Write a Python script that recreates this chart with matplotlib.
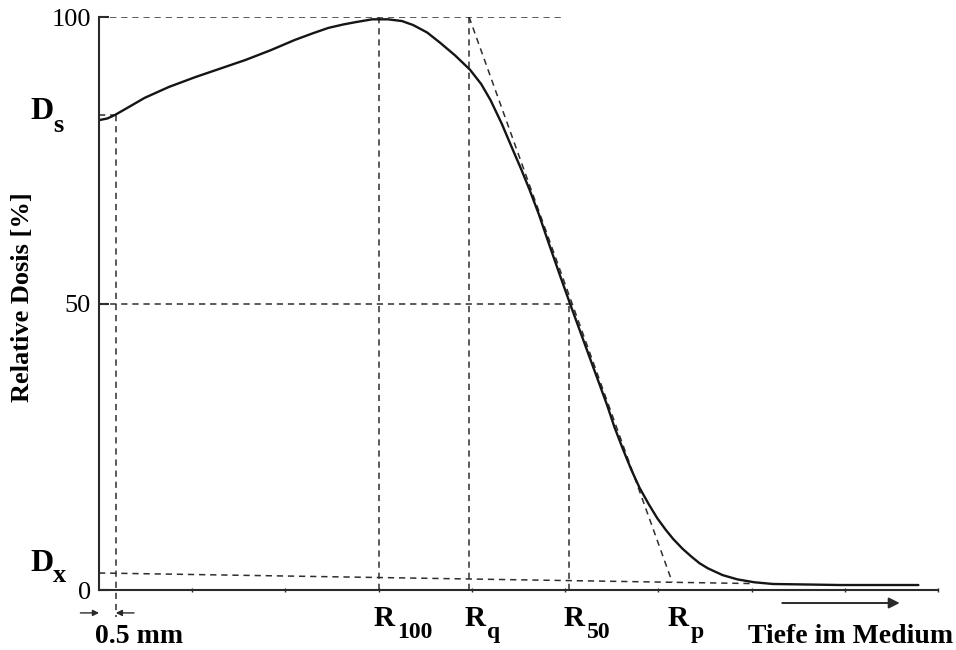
import matplotlib.pyplot as plt
from matplotlib.transforms import offset_copy

plt.rcParams['font.family'] = 'Liberation Serif'
plt.rcParams['lines.scale_dashes'] = False

# Tiefendosiskurve
depth = [0.0, 0.09, 0.17, 0.32, 0.49, 0.75, 1.03, 1.30, 1.57, 1.84, 2.10,
         2.30, 2.46, 2.62, 2.75, 2.93, 3.10, 3.25, 3.37, 3.52, 3.66, 3.82,
         3.98, 4.10, 4.20, 4.32, 4.44, 4.53, 4.62, 4.72, 4.81, 4.93, 5.05,
         5.16, 5.27, 5.36, 5.45, 5.53, 5.62, 5.71, 5.80, 5.90, 5.99, 6.08,
         6.16, 6.26, 6.35, 6.44, 6.53, 6.69, 6.85, 7.03, 7.23, 7.60, 7.95,
         8.79]
dose = [82.0, 82.3, 82.9, 84.3, 85.9, 87.8, 89.5, 91.0, 92.5, 94.2, 96.0,
        97.2, 98.1, 98.7, 99.1, 99.6, 99.6, 99.3, 98.6, 97.3, 95.5, 93.3,
        90.8, 88.3, 85.5, 81.4, 76.8, 73.4, 69.8, 65.5, 61.2, 55.6, 50.1,
        45.2, 40.3, 36.3, 32.3, 28.4, 24.6, 21.0, 17.8, 14.9, 12.5, 10.5,
        8.9, 7.2, 5.9, 4.7, 3.8, 2.6, 1.85, 1.35, 1.05, 0.96, 0.87,
        0.87]

# charakteristische Punkte
r100 = 3.0
rq = 3.97
r50 = 5.04
rp = 6.15
half_mm = 0.18
ds = 82.9
dx_depth = [0.0, 6.98]
dx_dose = [2.97, 1.13]
rp_dose = 1.35

r_labels = ['100', 'q', '50', 'p']
r_pos = [r100, rq, r50, rp]

dark = '#2a2a2a'
dash = dict(color='#2e2e2e', lw=1.1, dashes=(4.5, 3.5))

fig = plt.figure(figsize=(9.56, 6.5), dpi=100)
ax = fig.add_axes([0.1036, 0.0923, 0.8775, 0.8815])
ax.set_xlim(0, 9)
ax.set_ylim(0, 100)

for s in ['top', 'right']:
    ax.spines[s].set_visible(False)
for s in ['left', 'bottom']:
    ax.spines[s].set_linewidth(1.5)
    ax.spines[s].set_color(dark)

ax.set_yticks([0, 50, 100])
ax.set_yticklabels(['0', '50', '100'])
ax.tick_params(axis='y', direction='in', length=7, width=1.5, color=dark,
               labelsize=19, pad=6)
ax.set_xticks(range(1, 10))
ax.set_xticklabels([])
ax.tick_params(axis='x', direction='inout', length=3, width=1, color=dark)

# Hilfslinien
ax.plot([0, 4.97], [100, 100], **dash)
ax.plot([0, 5.1], [50, 50], **dash)
ax.plot([r100, r100], [0, 100], **dash)
ax.plot([rq, rq], [0, 100], **dash)
ax.plot([r50, r50], [0, 50], **dash)
ax.plot([rq, rp], [100, rp_dose], **dash)
ax.plot(dx_depth, dx_dose, **dash)
ax.plot([0, half_mm], [ds, ds], **dash)
ax.plot([half_mm, half_mm], [ds, -4.7], clip_on=False, **dash)

# Kurve
ax.plot(depth, dose, color='#151515', lw=1.7, solid_capstyle='round',
        solid_joinstyle='round')

# Pfeile unter der Achse
arr = dict(arrowstyle='-|>', lw=1.0, color=dark, mutation_scale=9,
           shrinkA=0, shrinkB=0)
ax.annotate('', xy=(0, -4.0), xytext=(-0.2, -4.0), arrowprops=arr,
            annotation_clip=False)
ax.annotate('', xy=(half_mm, -4.0), xytext=(0.375, -4.0), arrowprops=arr,
            annotation_clip=False)
big = dict(arrowstyle='-|>', lw=1.4, color=dark, mutation_scale=16,
           shrinkA=0, shrinkB=0)
ax.annotate('', xy=(8.59, -2.27), xytext=(7.33, -2.27), arrowprops=big,
            annotation_clip=False)

# R-Beschriftungen
for pos, sub in zip(r_pos, r_labels):
    tr = offset_copy(ax.transData, fig=fig, x=-5, y=-36, units='dots')
    ax.text(pos, 0, 'R', transform=tr, fontsize=21, fontweight='bold',
            ha='left', va='baseline', clip_on=False)
    tr2 = offset_copy(ax.transData, fig=fig, x=18, y=-48, units='dots')
    ax.text(pos, 0, sub, transform=tr2, fontsize=17, fontweight='bold',
            ha='left', va='baseline', clip_on=False)

# D_s und D_x
fig.text(30 / 956, 1 - 119 / 650, 'D', fontsize=23, fontweight='bold',
         ha='left', va='baseline')
fig.text(53 / 956, 1 - 132 / 650, 's', fontsize=19, fontweight='bold',
         ha='left', va='baseline')
fig.text(30 / 956, 1 - 571 / 650, 'D', fontsize=23, fontweight='bold',
         ha='left', va='baseline')
fig.text(53 / 956, 1 - 582 / 650, 'x', fontsize=19, fontweight='bold',
         ha='left', va='baseline')

fig.text(95 / 956, 1 - 643 / 650, '0.5 mm', fontsize=20, fontweight='bold',
         ha='left', va='baseline')
fig.text(953 / 956, 1 - 643 / 650, 'Tiefe im Medium', fontsize=20,
         fontweight='bold', ha='right', va='baseline')
fig.text(23 / 956, 1 - 297 / 650, 'Relative Dosis [%]', fontsize=19,
         fontweight='bold', rotation=90, ha='center', va='center')

fig.savefig('out.png', dpi=100)
